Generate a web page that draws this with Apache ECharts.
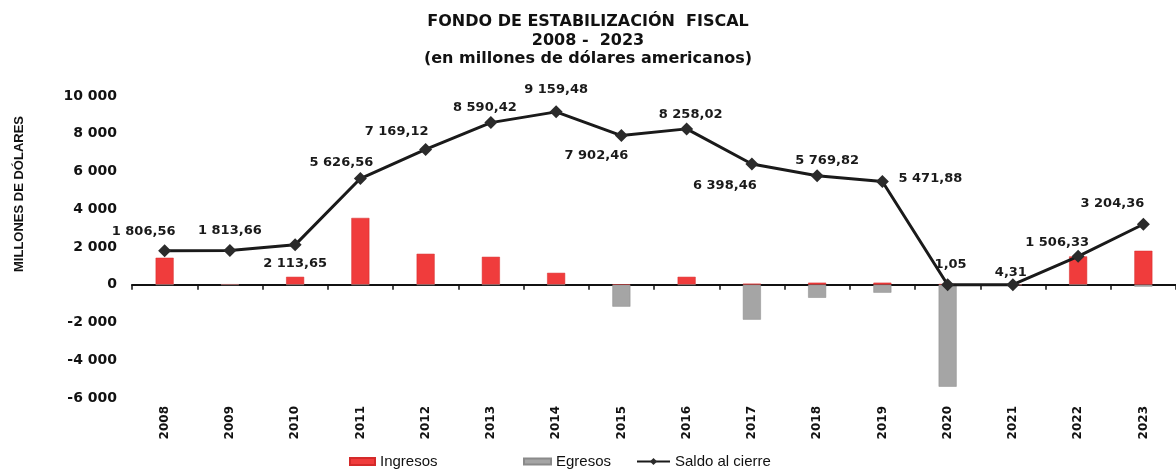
<!DOCTYPE html>
<html>
<head>
<meta charset="utf-8">
<script src="https://cdn.jsdelivr.net/npm/echarts@6/dist/echarts.min.js"></script>
<style>
  html, body { margin: 0; padding: 0; background: #fff; }
  #chart { width: 1176px; height: 470px; }
</style>
</head>
<body>
<div id="chart"></div>
<script>
// datos
var years = ['2008', '2009', '2010', '2011', '2012', '2013', '2014', '2015',
  '2016', '2017', '2018', '2019', '2020', '2021', '2022', '2023']
var ingresos = [1430, 30, 420, 3540, 1640, 1480, 630, 20, 420, 60, 110, 110, 40, 0, 1500, 1800]
var egresos = [0, 0, 0, 0, 0, 0, 0, -1160, 0, -1850, -690, -420, -5400, 0, 0, -100]
var saldo = [1806.56, 1813.66, 2113.65, 5626.56, 7169.12, 8590.42, 9159.48, 7902.46,
  8258.02, 6398.46, 5769.82, 5471.88, 1.05, 4.31, 1506.33, 3204.36]
var yTicks = { min: -6000, max: 10000, interval: 2000 }

// desplazamiento de cada etiqueta respecto al punto
var labelOffsets = [[-21, -19], [0, -20], [0, 19], [-19, -16], [-29, -18], [-6, -15],
  [0, -22], [-25, 20], [4, -14], [-27, 22], [10, -15], [48, -3], [3, -20], [-2, -12],
  [-21, -14], [-31, -21]]

function fmt(v, d) {
  var s = v.toFixed(d).split('.')
  var ent = s[0].replace(/\B(?=(\d{3})+(?!\d))/g, ' ')
  return s[1] ? ent + ',' + s[1] : ent
}

var chart = echarts.init(document.getElementById('chart'))
var boldFont = 'DejaVu Sans'
var legendText = { fontSize: 15, fontFamily: 'Liberation Sans', color: '#111' }

chart.setOption({
  backgroundColor: '#fff',
  animation: false,
  title: {
    text: 'FONDO DE ESTABILIZACIÓN  FISCAL\n2008 -  2023\n(en millones de dólares americanos)',
    left: 'center',
    top: 8,
    textStyle: {
      fontFamily: boldFont,
      fontWeight: 'bold',
      fontSize: 16,
      lineHeight: 18.5,
      color: '#111'
    }
  },
  graphic: [{
    type: 'text',
    x: 19,
    y: 194,
    rotation: Math.PI / 2,
    style: {
      text: 'MILLONES DE DÓLARES',
      font: 'bold 13px "Liberation Sans", Arial',
      fill: '#111',
      textAlign: 'center',
      textVerticalAlign: 'middle'
    }
  }],
  legend: [{
    data: ['Ingresos'],
    icon: 'rect',
    left: 349,
    top: 454,
    padding: 0,
    itemWidth: 25,
    itemHeight: 7,
    textStyle: legendText
  }, {
    data: ['Egresos'],
    icon: 'rect',
    left: 523,
    top: 454,
    padding: 0,
    itemWidth: 27,
    itemHeight: 6,
    textStyle: legendText
  }, {
    data: ['Saldo al cierre'],
    left: 636,
    top: 454,
    padding: 0,
    itemWidth: 33,
    itemHeight: 9,
    textStyle: legendText
  }],
  grid: {
    left: 132,
    width: 1047,
    top: 96,
    bottom: 72
  },
  xAxis: [{
    type: 'category',
    position: 'bottom',
    data: years,
    axisLine: { show: false, onZero: false },
    axisTick: { show: false },
    axisLabel: {
      rotate: 90,
      margin: 8,
      fontFamily: boldFont,
      fontWeight: 'bold',
      fontSize: 12,
      color: '#111'
    }
  }, {
    type: 'category',
    position: 'bottom',
    data: years,
    axisLine: { show: true, onZero: true, lineStyle: { color: '#111', width: 2 } },
    axisTick: { show: true, length: 5, lineStyle: { color: '#111', width: 1.5 } },
    axisLabel: { show: false }
  }],
  yAxis: {
    type: 'value',
    min: yTicks.min,
    max: yTicks.max,
    interval: yTicks.interval,
    axisLine: { show: false },
    axisTick: { show: false },
    splitLine: { show: false },
    axisLabel: {
      margin: 15,
      fontFamily: boldFont,
      fontWeight: 'bold',
      fontSize: 14,
      color: '#111',
      formatter: function(v) { return fmt(v, 0) }
    }
  },
  series: [{
    name: 'Ingresos',
    type: 'bar',
    barWidth: 18,
    barGap: '-100%',
    itemStyle: { color: '#f03c3c', borderColor: '#d42a2a', borderWidth: 0.5 },
    data: ingresos
  }, {
    name: 'Egresos',
    type: 'bar',
    barWidth: 18,
    barGap: '-100%',
    itemStyle: { color: '#a5a5a5', borderColor: '#8a8a8a', borderWidth: 0.5 },
    data: egresos
  }, {
    name: 'Saldo al cierre',
    type: 'line',
    z: 5,
    symbol: 'diamond',
    symbolSize: 13,
    lineStyle: { color: '#1a1a1a', width: 3 },
    itemStyle: { color: '#2b2b2b' },
    label: {
      show: true,
      position: 'inside',
      fontFamily: boldFont,
      fontWeight: 'bold',
      fontSize: 13,
      color: '#1a1a1a',
      formatter: function(p) { return fmt(p.value, 2) }
    },
    data: saldo.map(function(v, i) {
      return { value: v, label: { offset: labelOffsets[i] } }
    })
  }]
})
</script>
</body>
</html>
